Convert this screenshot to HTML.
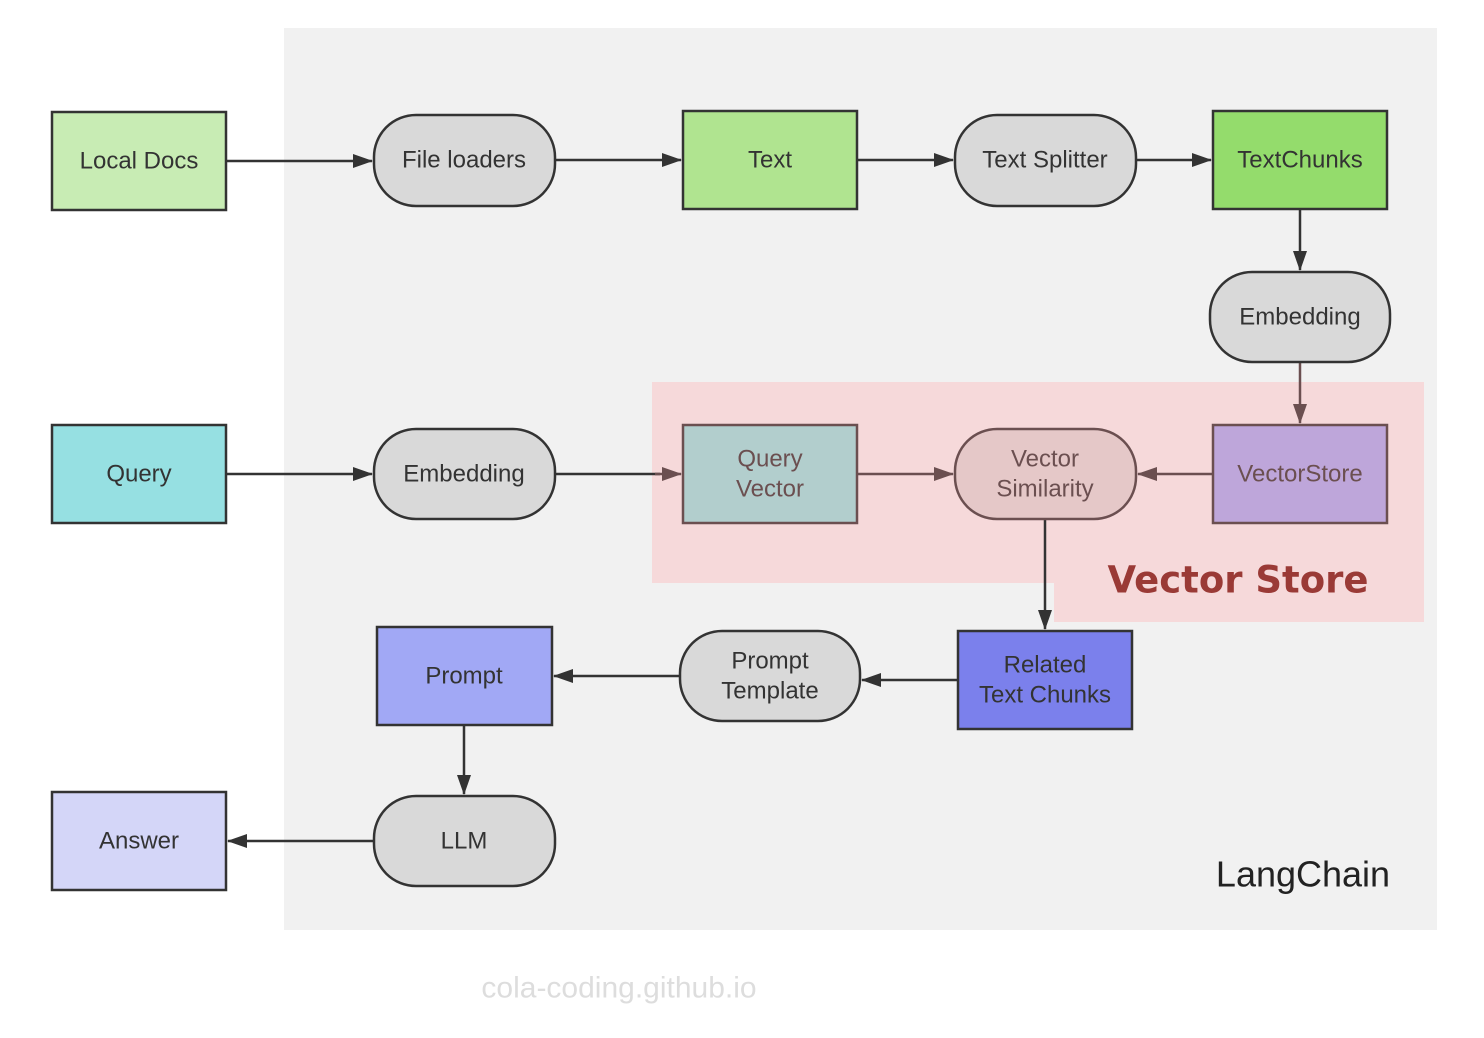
<!DOCTYPE html>
<html><head><meta charset="utf-8"><style>
html,body{margin:0;padding:0;background:#fff}
svg{display:block}
text{font-family:"Liberation Sans","Noto Sans CJK SC",sans-serif;font-size:24px;fill:#333;text-anchor:middle;dominant-baseline:central}
</style></head><body>
<svg width="1484" height="1038" viewBox="0 0 1484 1038" xmlns="http://www.w3.org/2000/svg">
<defs>
<marker id="a" markerWidth="20" markerHeight="14" refX="19" refY="7" orient="auto" markerUnits="userSpaceOnUse"><path d="M0,0 L20,7 L0,14 z" fill="#333"/></marker>
<marker id="b" markerWidth="20" markerHeight="14" refX="19" refY="7" orient="auto" markerUnits="userSpaceOnUse"><path d="M0,0 L20,7 L0,14 z" fill="#6b4f50"/></marker>
</defs>
<rect x="284" y="28" width="1153" height="902" fill="#f1f1f1"/>
<path d="M652 382 H1424 V622 H1054 V583 H652 Z" fill="#f6d9da"/>
<g stroke="#333" stroke-width="2.5" fill="none">
<line x1="226" y1="161" x2="372" y2="161" marker-end="url(#a)"/>
<line x1="555" y1="160" x2="681" y2="160" marker-end="url(#a)"/>
<line x1="857" y1="160" x2="953" y2="160" marker-end="url(#a)"/>
<line x1="1136" y1="160" x2="1211" y2="160" marker-end="url(#a)"/>
<line x1="1300" y1="209" x2="1300" y2="270" marker-end="url(#a)"/>
<line x1="226" y1="474" x2="372" y2="474" marker-end="url(#a)"/>
<line x1="555" y1="474" x2="660" y2="474"/>
<line x1="1045" y1="519" x2="1045" y2="629" marker-end="url(#a)"/>
<line x1="958" y1="680" x2="862" y2="680" marker-end="url(#a)"/>
<line x1="680" y1="676" x2="554" y2="676" marker-end="url(#a)"/>
<line x1="464" y1="725" x2="464" y2="794" marker-end="url(#a)"/>
<line x1="374" y1="841" x2="228" y2="841" marker-end="url(#a)"/>
</g>
<g stroke="#6b4f50" stroke-width="2.5" fill="none">
<line x1="1300" y1="362" x2="1300" y2="423" marker-end="url(#b)"/>
<line x1="655" y1="474" x2="681" y2="474" marker-end="url(#b)"/>
<line x1="857" y1="474" x2="953" y2="474" marker-end="url(#b)"/>
<line x1="1213" y1="474" x2="1138" y2="474" marker-end="url(#b)"/>
</g>
<g stroke="#333" stroke-width="2.5">
<rect x="52" y="112" width="174" height="98" fill="#c8ecb4"/>
<rect x="374" y="115" width="181" height="91" rx="42" fill="#d9d9d9"/>
<rect x="683" y="111" width="174" height="98" fill="#b0e490"/>
<rect x="955" y="115" width="181" height="91" rx="42" fill="#d9d9d9"/>
<rect x="1213" y="111" width="174" height="98" fill="#94dc6c"/>
<rect x="1210" y="272" width="180" height="90" rx="42" fill="#d9d9d9"/>
<rect x="52" y="425" width="174" height="98" fill="#96e0e2"/>
<rect x="374" y="429" width="181" height="90" rx="42" fill="#d9d9d9"/>
<rect x="958" y="631" width="174" height="98" fill="#7b80ec"/>
<rect x="680" y="631" width="180" height="90" rx="42" fill="#d9d9d9"/>
<rect x="377" y="627" width="175" height="98" fill="#a1a8f5"/>
<rect x="374" y="796" width="181" height="90" rx="42" fill="#d9d9d9"/>
<rect x="52" y="792" width="174" height="98" fill="#d4d6f8"/>
</g>
<g stroke="#6b4f50" stroke-width="2.5">
<rect x="683" y="425" width="174" height="98" fill="#b2cecd"/>
<rect x="955" y="429" width="181" height="90" rx="42" fill="#e5c8c8"/>
<rect x="1213" y="425" width="174" height="98" fill="#bea6da"/>
</g>
<text x="139" y="161">Local Docs</text>
<text x="464" y="160">File loaders</text>
<text x="770" y="160">Text</text>
<text x="1045" y="160">Text Splitter</text>
<text x="1300" y="160">TextChunks</text>
<text x="1300" y="317">Embedding</text>
<text x="139" y="474">Query</text>
<text x="464" y="474">Embedding</text>
<text x="770" y="459" style="fill:#6b4f50">Query</text>
<text x="770" y="489" style="fill:#6b4f50">Vector</text>
<text x="1045" y="459" style="fill:#6b4f50">Vector</text>
<text x="1045" y="489" style="fill:#6b4f50">Similarity</text>
<text x="1300" y="474" style="fill:#6b4f50">VectorStore</text>
<text x="1045" y="665">Related</text>
<text x="1045" y="695">Text Chunks</text>
<text x="770" y="661">Prompt</text>
<text x="770" y="691">Template</text>
<text x="464" y="676">Prompt</text>
<text x="464" y="841">LLM</text>
<text x="139" y="841">Answer</text>
<text x="1238" y="580" style="font-family:'DejaVu Sans',sans-serif;font-weight:bold;font-size:37px;fill:#9a3a36">Vector Store</text>
<text x="1303" y="874" style="font-size:36px;fill:#222">LangChain</text>
<text x="619" y="988" style="font-size:30px;fill:#ddd">cola-coding.github.io</text>
</svg>
</body></html>
